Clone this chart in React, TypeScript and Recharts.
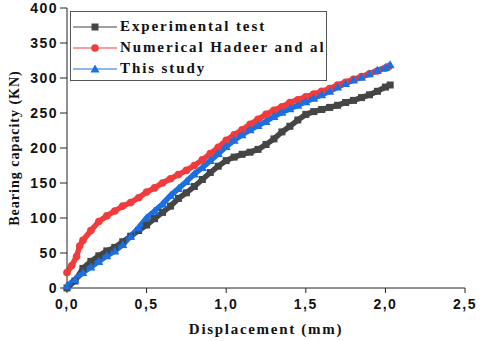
import {
  LineChart,
  Line,
  XAxis,
  YAxis,
  Legend,
} from 'recharts'

// Courbe expérimentale (carrés gris)
const expDisp = [0, 0.05, 0.1, 0.15, 0.2, 0.25, 0.3, 0.35, 0.4, 0.45, 0.5, 0.55, 0.6, 0.65, 0.7, 0.75, 0.8, 0.85, 0.9, 0.95, 1.0, 1.05, 1.1, 1.15, 1.2, 1.25, 1.3, 1.35, 1.4, 1.45, 1.5, 1.55, 1.6, 1.65, 1.7, 1.75, 1.8, 1.85, 1.9, 1.95, 2.0, 2.03]
const expLoad = [0, 10, 28, 38, 46, 53, 58, 66, 74, 82, 90, 99, 108, 117, 128, 136, 145, 155, 165, 174, 182, 187, 191, 194, 198, 205, 213, 223, 231, 240, 248, 252, 255, 258, 261, 265, 268, 272, 276, 281, 287, 290]

// Numérique Hadeer et al. (cercles rouges)
const numDisp = [0, 0.03, 0.06, 0.08, 0.1, 0.15, 0.2, 0.25, 0.3, 0.35, 0.4, 0.45, 0.5, 0.55, 0.6, 0.65, 0.7, 0.75, 0.8, 0.85, 0.9, 0.95, 1.0, 1.05, 1.1, 1.15, 1.2, 1.25, 1.3, 1.35, 1.4, 1.45, 1.5, 1.55, 1.6, 1.65, 1.7, 1.75, 1.8, 1.85, 1.9, 1.95, 2.0, 2.02]
const numLoad = [22, 32, 45, 60, 68, 82, 95, 103, 110, 117, 122, 129, 137, 143, 150, 156, 162, 168, 175, 183, 192, 201, 211, 219, 226, 234, 241, 248, 254, 259, 265, 269, 273, 277, 281, 285, 290, 294, 298, 302, 306, 310, 314, 316]

// Cette étude (triangles bleus)
const studyDisp = [0, 0.05, 0.1, 0.15, 0.2, 0.25, 0.3, 0.35, 0.4, 0.45, 0.5, 0.55, 0.6, 0.65, 0.7, 0.75, 0.8, 0.85, 0.9, 0.95, 1.0, 1.05, 1.1, 1.15, 1.2, 1.25, 1.3, 1.35, 1.4, 1.45, 1.5, 1.55, 1.6, 1.65, 1.7, 1.75, 1.8, 1.85, 1.9, 1.95, 2.0, 2.03]
const studyLoad = [3, 12, 22, 30, 38, 46, 53, 62, 74, 86, 100, 110, 120, 132, 142, 152, 163, 172, 182, 192, 202, 211, 219, 226, 232, 238, 245, 251, 256, 261, 266, 271, 276, 281, 287, 292, 297, 301, 306, 311, 315, 319]

const xTicks = [0, 0.5, 1.0, 1.5, 2.0, 2.5]
const yTicks = [0, 50, 100, 150, 200, 250, 300, 350, 400]

const toPoints = (xs: number[], ys: number[]) => xs.map((x, i) => ({ x, y: ys[i] }))

const GRAY = '#454545'
const RED = '#f03c3c'
const BLUE = '#1c6fe0'

const series = [
  { name: 'Experimental test', color: GRAY, shape: 'square', data: toPoints(expDisp, expLoad) },
  { name: 'Numerical Hadeer and al', color: RED, shape: 'circle', data: toPoints(numDisp, numLoad) },
  { name: 'This study', color: BLUE, shape: 'triangle', data: toPoints(studyDisp, studyLoad) },
]

function Marker({ cx, cy, shape, color, k }: { cx: number; cy: number; shape: string; color: string; k?: string }) {
  if (shape === 'square') return <rect key={k} x={cx - 3.5} y={cy - 3.5} width={7} height={7} fill={color} />
  if (shape === 'circle') return <circle key={k} cx={cx} cy={cy} r={3.8} fill={color} />
  return <path key={k} d={`M${cx},${cy - 4.5}L${cx + 4.5},${cy + 3.5}L${cx - 4.5},${cy + 3.5}Z`} fill={color} />
}

const fmt = (v: number) => v.toFixed(1).replace('.', ',')

const tickStyle = { fill: '#111', fontSize: 14, fontWeight: 700, fontFamily: 'Liberation Sans, Arial, sans-serif', letterSpacing: 1.5 }
const titleFont = 'Liberation Serif, Times New Roman, serif'

function LegendBox() {
  return (
    <div style={{ border: '1px solid #555', background: '#fff', width: 257, height: 70, boxSizing: 'border-box', paddingTop: 4 }}>
      {series.map((s) => (
        <div key={s.name} style={{ display: 'flex', alignItems: 'center', height: 21 }}>
          <svg width={46} height={14} style={{ marginLeft: 2 }}>
            <line x1={0} y1={7} x2={44} y2={7} stroke={s.color} strokeWidth={1.2} />
            <Marker cx={22} cy={7} shape={s.shape} color={s.color} />
          </svg>
          <span style={{ fontFamily: titleFont, fontWeight: 700, fontSize: 15, letterSpacing: 1.9, color: '#111', marginLeft: 1, whiteSpace: 'nowrap' }}>
            {s.name}
          </span>
        </div>
      ))}
    </div>
  )
}

export default function App() {
  return (
    <div style={{ position: 'absolute', left: 0, top: 0, background: '#fff' }}>
      <LineChart width={480} height={341} margin={{ top: 8, right: 15, bottom: 0, left: 0 }}>
        <XAxis
          dataKey="x"
          type="number"
          domain={[0, 2.5]}
          ticks={xTicks}
          tickFormatter={fmt}
          tick={tickStyle}
          tickSize={5}
          tickMargin={6}
          height={53}
          stroke="#222"
          allowDuplicatedCategory={false}
          label={{
            value: 'Displacement (mm)',
            position: 'insideBottom',
            offset: 7,
            style: { fontFamily: titleFont, fontWeight: 700, fontSize: 15, letterSpacing: 1.7, fill: '#111' },
          }}
        />
        <XAxis xAxisId="top" orientation="top" type="number" domain={[0, 2.5]} tick={false} tickLine={false} height={0} stroke="#777" />
        <YAxis
          type="number"
          domain={[0, 400]}
          ticks={yTicks}
          tick={tickStyle}
          tickSize={7}
          tickMargin={2}
          width={67}
          stroke="#222"
          label={{
            value: 'Bearing capacity (KN)',
            angle: -90,
            position: 'insideLeft',
            offset: 14,
            style: { textAnchor: 'middle', fontFamily: titleFont, fontWeight: 700, fontSize: 14, letterSpacing: 1, fill: '#111' },
          }}
        />
        <YAxis yAxisId="right" orientation="right" domain={[0, 400]} tick={false} tickLine={false} width={0} stroke="#777" />
        <Legend
          layout="vertical"
          align="center"
          verticalAlign="middle"
          content={() => <LegendBox />}
          wrapperStyle={{ position: 'absolute', left: 70, top: 11, width: 257, height: 70 }}
        />
        {series.map((s) => (
          <Line
            key={s.name}
            data={s.data}
            dataKey="y"
            name={s.name}
            type="linear"
            stroke={s.color}
            strokeWidth={5.5}
            isAnimationActive={false}
            dot={(p: any) => <Marker k={`${s.shape}-${p.index}`} cx={p.cx} cy={p.cy} shape={s.shape} color={s.color} />}
            activeDot={false}
          />
        ))}
      </LineChart>
    </div>
  )
}
